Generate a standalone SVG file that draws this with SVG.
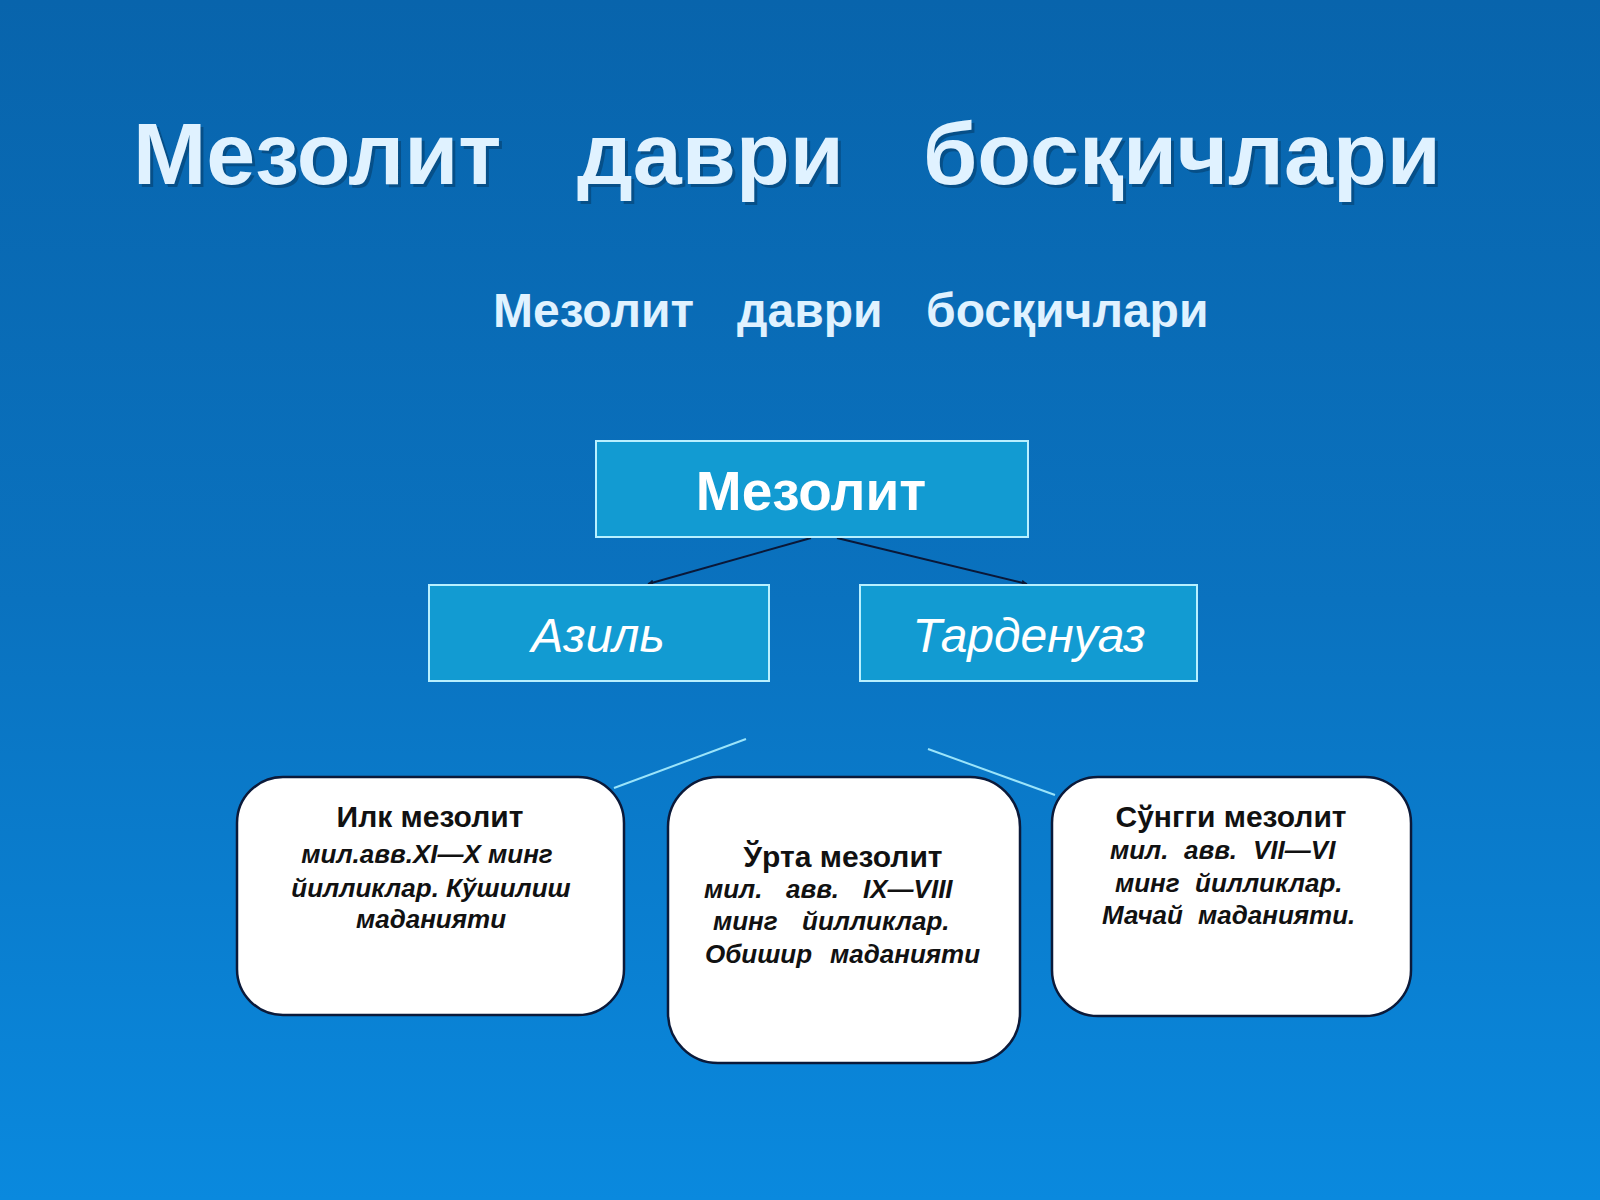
<svg xmlns="http://www.w3.org/2000/svg" width="1600" height="1200" viewBox="0 0 1600 1200">
<defs>
<linearGradient id="bg" x1="0" y1="0" x2="0" y2="1">
<stop offset="0" stop-color="#0864ac"/>
<stop offset="0.5" stop-color="#0a72bf"/>
<stop offset="1" stop-color="#0a89de"/>
</linearGradient>
<marker id="arr" viewBox="0 0 10 10" refX="9" refY="5" markerWidth="6" markerHeight="6" orient="auto" markerUnits="userSpaceOnUse">
<path d="M0,0 L10,5 L0,10 z" fill="#0a1838"/>
</marker>
<style>
.title{font-family:"Liberation Sans",Arial,sans-serif;font-weight:bold;fill:#e0f2ff}
.shadow{fill:#05406e;opacity:0.6}
.cbox{fill:#129bd2;stroke:#b8f0ff;stroke-width:2}
.rbox{fill:#ffffff;stroke:#0b1a3a;stroke-width:2.5}
.ctext{font-family:"Liberation Sans",Arial,sans-serif;fill:#ffffff;text-anchor:middle}
.h{font-family:"Liberation Sans",Arial,sans-serif;font-weight:bold;font-size:30px;fill:#111111;text-anchor:middle}
.b{font-family:"Liberation Sans",Arial,sans-serif;font-weight:bold;font-style:italic;font-size:26px;fill:#111111}
.arrow{stroke:#0a1838;stroke-width:2;fill:none}
.lite{stroke:#9be4fa;stroke-width:2;fill:none}
</style>
</defs>
<rect x="0" y="0" width="1600" height="1200" fill="url(#bg)"/>

<g id="title">
<g class="shadow" font-family="Liberation Sans, Arial, sans-serif" font-weight="bold" font-size="88">
<text x="136" y="187">Мезолит</text>
<text x="580" y="187">даври</text>
<text x="926" y="187">босқичлари</text>
</g>
<g class="title" font-size="88">
<text x="133" y="184">Мезолит</text>
<text x="577" y="184">даври</text>
<text x="923" y="184">босқичлари</text>
</g>
</g>

<g id="subtitle" class="title" font-size="48">
<text x="493" y="327">Мезолит</text>
<text x="737" y="327">даври</text>
<text x="926" y="327">босқичлари</text>
</g>

<g id="connectors">
<line class="arrow" x1="811" y1="538" x2="648" y2="584" marker-end="url(#arr)"/>
<line class="arrow" x1="837" y1="538" x2="1027" y2="584" marker-end="url(#arr)"/>
<line class="lite" x1="746" y1="739" x2="614" y2="788"/>
<line class="lite" x1="928" y1="749" x2="1055" y2="795"/>
</g>

<g id="node-mezolit">
<rect class="cbox" x="596" y="441" width="432" height="96"/>
<text class="ctext" x="811" y="510" font-size="55" font-weight="bold">Мезолит</text>
</g>

<g id="node-azil">
<rect class="cbox" x="429" y="585" width="340" height="96"/>
<text class="ctext" x="598" y="652" font-size="48" font-style="italic">Азиль</text>
</g>

<g id="node-tardenuaz">
<rect class="cbox" x="860" y="585" width="337" height="96"/>
<text class="ctext" x="1029" y="652" font-size="48" font-style="italic">Тарденуаз</text>
</g>

<g id="node-ilk">
<rect class="rbox" x="237" y="777" width="387" height="238" rx="46" ry="46"/>
<text class="h" x="430" y="827">Илк мезолит</text>
<text class="b" x="427" y="863" text-anchor="middle">мил.авв.XI—X минг</text>
<text class="b" x="431" y="897" text-anchor="middle">йилликлар. Кўшилиш</text>
<text class="b" x="431" y="928" text-anchor="middle">маданияти</text>
</g>

<g id="node-urta">
<rect class="rbox" x="668" y="777" width="352" height="286" rx="50" ry="50"/>
<text class="h" x="843" y="867">Ўрта мезолит</text>
<text class="b" y="898"><tspan x="704">мил.</tspan><tspan x="786">авв.</tspan><tspan x="863">IX—VIII</tspan></text>
<text class="b" y="930"><tspan x="713">минг</tspan><tspan x="802">йилликлар.</tspan></text>
<text class="b" y="963"><tspan x="705">Обишир</tspan><tspan x="830">маданияти</tspan></text>
</g>

<g id="node-sunggi">
<rect class="rbox" x="1052" y="777" width="359" height="239" rx="46" ry="46"/>
<text class="h" x="1231" y="827">Сўнгги мезолит</text>
<text class="b" y="859"><tspan x="1110">мил.</tspan><tspan x="1184">авв.</tspan><tspan x="1253">VII—VI</tspan></text>
<text class="b" y="892"><tspan x="1115">минг</tspan><tspan x="1195">йилликлар.</tspan></text>
<text class="b" y="924"><tspan x="1102">Мачай</tspan><tspan x="1198">маданияти.</tspan></text>
</g>
</svg>
